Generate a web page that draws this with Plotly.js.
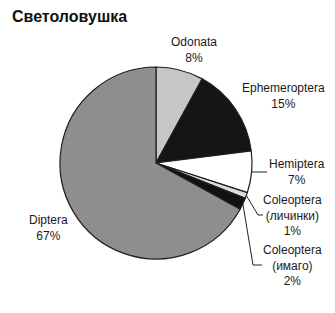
<!DOCTYPE html>
<html>
<head>
<meta charset="utf-8">
<script src="https://cdn.plot.ly/plotly-3.0.1.min.js"></script>
<style>
  html, body { margin: 0; padding: 0; background: #fff; }
  #chart { width: 335px; height: 313px; }
</style>
</head>
<body>
<div id="chart"></div>
<script>
// Insect orders caught in the light trap, share of catch (%)
const orders = ['Odonata', 'Ephemeroptera', 'Hemiptera', 'Coleoptera<br>(личинки)', 'Coleoptera<br>(имаго)', 'Diptera'];
const shares = [8, 15, 7, 1, 2, 67];
const sliceColors = ['#c6c6c6', '#151515', '#ffffff', '#dcdcdc', '#111111', '#8e8e8e'];

// Label anchor points in figure pixels (centre of the text block)
const labelPos = [[194, 50], [283, 96], [297, 172], [292, 215], [292, 265], [48, 228]];

const W = 335, H = 313;
const cx = 156, cy = 163, R = 96;           // pie centre and radius in pixels
const px = x => x / W;
const py = y => 1 - y / H;

// Annotations carry the category name and its percentage
const annotations = orders.map((name, i) => ({
  xref: 'paper', yref: 'paper',
  x: px(labelPos[i][0]), y: py(labelPos[i][1]),
  xanchor: 'center', yanchor: 'middle',
  text: name + '<br>' + shares[i] + '%',
  showarrow: false,
  align: 'center',
  font: { family: 'Liberation Sans, Arial, sans-serif', size: 12, color: '#1a1a1a' }
}));

// Elbow leader lines from the slice edge to the small labels
function edgePoint(idx) {
  const total = shares.reduce((a, b) => a + b, 0);
  let before = 0;
  for (let k = 0; k < idx; k++) before += shares[k];
  const mid = (before + shares[idx] / 2) / total * 2 * Math.PI;
  return [cx + R * Math.sin(mid), cy - R * Math.cos(mid)];
}
const leaderEnds = { 2: [[267, 172]], 3: [[258, 215], [263, 215]], 4: [[253, 265], [262, 265]] };
const shapes = Object.keys(leaderEnds).map(key => {
  const i = +key;
  const pts = [edgePoint(i)].concat(leaderEnds[key]);
  const path = pts.map((p, j) => (j ? 'L' : 'M') + px(p[0]) + ',' + py(p[1])).join(' ');
  return { type: 'path', xref: 'paper', yref: 'paper', path: path,
           line: { color: '#222', width: 1 } };
});

const trace = {
  type: 'pie',
  labels: orders,
  values: shares,
  sort: false,
  direction: 'clockwise',
  rotation: 0,
  textinfo: 'none',
  hoverinfo: 'label+percent',
  marker: { colors: sliceColors, line: { color: '#1e1e1e', width: 1.2 } },
  domain: { x: [px(cx - R), px(cx + R)], y: [py(cy + R), py(cy - R)] },
  showlegend: false
};

const layout = {
  width: W, height: H,
  margin: { l: 0, r: 0, t: 0, b: 0 },
  paper_bgcolor: '#ffffff',
  showlegend: false,
  title: {
    text: '<b>Светоловушка</b>',
    x: 12 / W, xanchor: 'left',
    y: 1 - 16 / H, yanchor: 'middle',
    font: { family: 'Liberation Sans, Arial, sans-serif', size: 16, color: '#111' }
  },
  annotations: annotations,
  shapes: shapes
};

Plotly.newPlot('chart', [trace], layout, { staticPlot: true, displayModeBar: false });
</script>
</body>
</html>
